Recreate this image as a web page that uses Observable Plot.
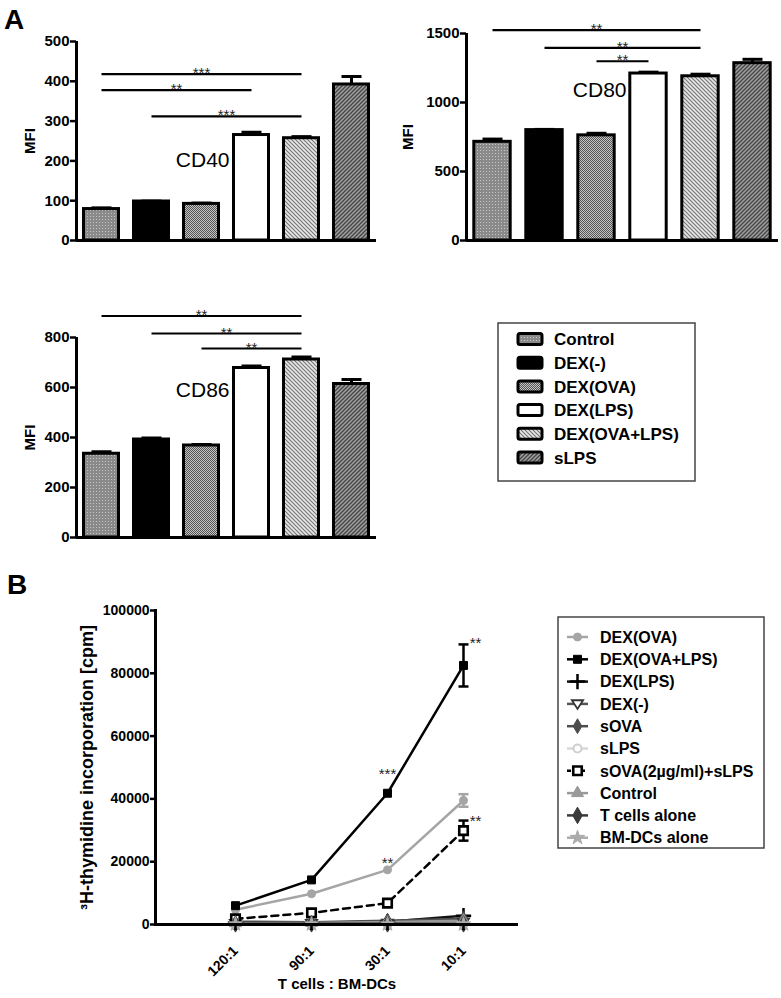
<!DOCTYPE html>
<html><head><meta charset="utf-8">
<script src="https://cdn.jsdelivr.net/npm/d3@7"></script>
<script src="https://cdn.jsdelivr.net/npm/@observablehq/plot@0.6"></script>
<style>
body{margin:0;background:#fff;}
#page{position:relative;width:781px;height:998px;background:#fff;font-family:"Liberation Sans",Arial,Helvetica,sans-serif;overflow:hidden;}
.letter{position:absolute;font-weight:bold;font-size:28px;line-height:1;}
</style></head><body>
<div id="page"></div>
<script>
// ---------- DATA (panel A) ----------
const groups = ["Control", "DEX(-)", "DEX(OVA)", "DEX(LPS)", "DEX(OVA+LPS)", "sLPS"];
const cd40Mean = [79, 98, 92, 265, 257, 392];
const cd40Err  = [3, 1, 2, 7, 4, 20];
const cd80Mean = [715, 800, 762, 1210, 1190, 1285];
const cd80Err  = [20, 5, 15, 10, 15, 28];
const cd86Mean = [335, 392, 368, 678, 712, 614];
const cd86Err  = [8, 6, 4, 8, 10, 18];
const cd40Ticks = [0, 100, 200, 300, 400, 500];
const cd80Ticks = [0, 500, 1000, 1500];
const cd86Ticks = [0, 200, 400, 600, 800];
const cd40Sig = [
  {from: "Control", to: "DEX(OVA+LPS)", level: 418, stars: "***"},
  {from: "Control", to: "DEX(LPS)", level: 378, stars: "**"},
  {from: "DEX(-)", to: "DEX(OVA+LPS)", level: 312, stars: "***"}
];
const cd80Sig = [
  {from: "Control", to: "DEX(OVA+LPS)", level: 1524, stars: "**"},
  {from: "DEX(-)", to: "DEX(OVA+LPS)", level: 1396, stars: "**"},
  {from: "DEX(OVA)", to: "DEX(LPS)", level: 1299, stars: "**"}
];
const cd86Sig = [
  {from: "Control", to: "DEX(OVA+LPS)", level: 886, stars: "**"},
  {from: "DEX(-)", to: "DEX(OVA+LPS)", level: 816, stars: "**"},
  {from: "DEX(OVA)", to: "DEX(OVA+LPS)", level: 756, stars: "**"}
];

// ---------- DATA (panel B) ----------
const ratios = ["120:1", "90:1", "30:1", "10:1"];
const yTicksB = [0, 20000, 40000, 60000, 80000, 100000];
const dexOva       = [4700, 9800, 17400, 39500];
const dexOvaLps    = [6000, 14200, 41800, 82500];
const dexLps       = [700, 600, 900, 2800];
const dexNone      = [300, 300, 400, 800];
const sOva         = [900, 700, 1200, 1800];
const sLps         = [200, 200, 300, 400];
const sOvaSLps     = [1800, 3700, 6800, 29900];
const controlB     = [400, 500, 800, 1200];
const tCellsAlone  = [200, 200, 200, 200];
const bmdcAlone    = [100, 100, 100, 100];
const errorsB = [
  {series: "DEX(OVA+LPS)", ratio: "10:1", mean: 82500, err: 6700},
  {series: "DEX(OVA)", ratio: "10:1", mean: 39500, err: 2000},
  {series: "sOVA(2µg/ml)+sLPS", ratio: "10:1", mean: 29900, err: 3200}
];
const starsB = [
  {ratio: "30:1", level: 47500, stars: "***"},
  {ratio: "30:1", level: 19300, stars: "**"},
  {ratio: "10:1", level: 89300, stars: "**"},
  {ratio: "10:1", level: 32500, stars: "**"}
];

// ---------- STYLE ----------
const FONT = "'Liberation Sans', Arial, Helvetica, sans-serif";
const barFill = {
  "Control": "url(#pCtrl)", "DEX(-)": "#000", "DEX(OVA)": "url(#pOva)",
  "DEX(LPS)": "#fff", "DEX(OVA+LPS)": "url(#pOvaLps)", "sLPS": "url(#pSlps)"
};
const capSymbol = {draw(ctx, size) { const w = Math.sqrt(size / Math.PI); ctx.moveTo(-w, 0); ctx.lineTo(w, 0); }};
const triDown = {draw(ctx, size) { const r = Math.sqrt(size / Math.PI) * 1.25; ctx.moveTo(-r, -r * 0.65); ctx.lineTo(r, -r * 0.65); ctx.lineTo(0, r * 0.9); ctx.closePath(); }};
const seriesB = [
  {name: "DEX(OVA)", values: dexOva, stroke: "#a5a5a5", symbol: d3.symbolCircle, fill: "#a5a5a5", mstroke: "#a5a5a5", r: 4, sw: 1},
  {name: "DEX(OVA+LPS)", values: dexOvaLps, stroke: "#000", symbol: d3.symbolSquare, fill: "#000", mstroke: "#000", r: 4.5, sw: 1},
  {name: "DEX(LPS)", values: dexLps, stroke: "#111", symbol: d3.symbolPlus, fill: "none", mstroke: "#000", r: 5, sw: 2.5},
  {name: "DEX(-)", values: dexNone, stroke: "#555", symbol: triDown, fill: "#fff", mstroke: "#333", r: 4.5, sw: 1.8},
  {name: "sOVA", values: sOva, stroke: "#4d4d4d", symbol: d3.symbolDiamond, fill: "#4d4d4d", mstroke: "#4d4d4d", r: 4.5, sw: 1},
  {name: "sLPS", values: sLps, stroke: "#d9d9d9", symbol: d3.symbolCircle, fill: "#fff", mstroke: "#cfcfcf", r: 4, sw: 2},
  {name: "sOVA(2µg/ml)+sLPS", values: sOvaSLps, stroke: "#000", dash: "7,5", symbol: d3.symbolSquare, fill: "#fff", mstroke: "#000", r: 4.8, sw: 2.6},
  {name: "Control", values: controlB, stroke: "#999", symbol: d3.symbolTriangle, fill: "#999", mstroke: "#999", r: 4.5, sw: 1},
  {name: "T cells alone", values: tCellsAlone, stroke: "#3a3a3a", symbol: d3.symbolDiamond, fill: "#3a3a3a", mstroke: "#3a3a3a", r: 5, sw: 1},
  {name: "BM-DCs alone", values: bmdcAlone, stroke: "#ababab", symbol: d3.symbolStar, fill: "#ababab", mstroke: "#ababab", r: 4.5, sw: 1}
];

const page = document.getElementById("page");
page.insertAdjacentHTML("beforeend", `<svg width="0" height="0" style="position:absolute"><defs>
<pattern id="pCtrl" width="3" height="3" patternUnits="userSpaceOnUse"><rect width="3" height="3" fill="#8a8a8a"/><rect width="1" height="1" fill="#c6c6c6"/></pattern>
<pattern id="pOva" width="2" height="2" patternUnits="userSpaceOnUse"><rect width="2" height="2" fill="#c4c4c4"/><rect width="1" height="1" fill="#555"/><rect x="1" y="1" width="1" height="1" fill="#555"/></pattern>
<pattern id="pOvaLps" width="4" height="4" patternUnits="userSpaceOnUse"><rect width="4" height="4" fill="#e8e8e8"/><path d="M-1,-1L5,5M-1,3L1,5M3,-1L5,1" stroke="#777" stroke-width="1.2"/></pattern>
<pattern id="pSlps" width="4" height="4" patternUnits="userSpaceOnUse"><rect width="4" height="4" fill="#a0a0a0"/><path d="M-1,5L5,-1M-1,1L1,-1M3,5L5,3" stroke="#444" stroke-width="1.3"/></pattern>
</defs></svg>`);

function place(node, left, top) {
  node.style.position = "absolute";
  node.style.left = left + "px";
  node.style.top = top + "px";
  page.appendChild(node);
}

function barPanel({means, errs, ticks, sig, tag, tagY, width, height, marginLeft, marginRight, marginTop, yMax, labelDx}) {
  const rows = groups.map((g, i) => ({group: g, i, mean: means[i], err: errs[i]}));
  const idx = g => groups.indexOf(g);
  return Plot.plot({
    width, height, marginLeft, marginRight, marginTop, marginBottom: 10,
    style: {fontFamily: FONT, fontSize: "15px", background: "transparent", overflow: "visible", color: "#000"},
    x: {type: "linear", domain: [-0.5, groups.length - 0.5], axis: null},
    y: {domain: [0, yMax], axis: null},
    color: {type: "identity"},
    marks: [
      Plot.rect(rows, {x1: d => d.i - 0.35, x2: d => d.i + 0.35, y1: 0, y2: "mean", fill: d => barFill[d.group], stroke: "#000", strokeWidth: 3}),
      Plot.ruleX(rows, {x: "i", y1: "mean", y2: d => d.mean + d.err, stroke: "#000", strokeWidth: 3}),
      Plot.dot(rows, {x: "i", y: d => d.mean + d.err, symbol: capSymbol, r: 10, fill: "none", stroke: "#000", strokeWidth: 3}),
      Plot.ruleY([0], {stroke: "#000", strokeWidth: 3}),
      Plot.ruleX([-0.5], {stroke: "#000", strokeWidth: 3}),
      Plot.axisY(ticks, {tickSize: 6, tickPadding: 1, fontSize: 15, fontWeight: "bold", strokeWidth: 2.5, tickFormat: d3.format("d"), label: null}),
      Plot.link(sig, {x1: d => idx(d.from), x2: d => idx(d.to), y1: "level", y2: "level", stroke: "#000", strokeWidth: 2.2}),
      Plot.text(sig, {x: d => (idx(d.from) + idx(d.to)) / 2, y: "level", text: "stars", fontSize: 15, lineAnchor: "bottom", dy: 4, fill: "#222"}),
      Plot.text([tag], {x: idx("DEX(LPS)"), y: tagY, text: d => d, textAnchor: "end", dx: -22, fontSize: 21, fontWeight: "normal"}),
      Plot.text(["MFI"], {frameAnchor: "left", textAnchor: "middle", rotate: -90, dx: labelDx, text: d => d, fontSize: 15, fontWeight: "bold"})
    ]
  });
}

place(barPanel({means: cd40Mean, errs: cd40Err, ticks: cd40Ticks, sig: cd40Sig, tag: "CD40", tagY: 201,
  width: 390, height: 250, marginLeft: 76, marginRight: 14, marginTop: 41, yMax: 500, labelDx: -46}), 0, 0);
place(barPanel({means: cd80Mean, errs: cd80Err, ticks: cd80Ticks, sig: cd80Sig, tag: "CD80", tagY: 1089,
  width: 391, height: 250, marginLeft: 76, marginRight: 3, marginTop: 33, yMax: 1500, labelDx: -58}), 390, 0);
place(barPanel({means: cd86Mean, errs: cd86Err, ticks: cd86Ticks, sig: cd86Sig, tag: "CD86", tagY: 587,
  width: 390, height: 257, marginLeft: 76, marginRight: 14, marginTop: 47, yMax: 800, labelDx: -46}), 0, 290);

// Panel B
const rowsB = seriesB.flatMap(s => ratios.map((r, k) => ({series: s.name, ratio: r, value: s.values[k]})));
const marksB = [];
for (const s of seriesB) {
  const rs = rowsB.filter(d => d.series === s.name);
  marksB.push(Plot.line(rs, {x: "ratio", y: "value", stroke: s.stroke, strokeWidth: 2.5, strokeDasharray: s.dash}));
}
for (const s of seriesB) {
  const rs = rowsB.filter(d => d.series === s.name);
  marksB.push(Plot.dot(rs, {x: "ratio", y: "value", symbol: s.symbol, r: s.r, fill: s.fill, stroke: s.mstroke, strokeWidth: s.sw}));
}
const errColor = name => seriesB.find(s => s.name === name).mstroke;
const chartB = Plot.plot({
  width: 530, height: 438, marginLeft: 155, marginRight: 12, marginTop: 50, marginBottom: 74,
  style: {fontFamily: FONT, fontSize: "14px", background: "transparent", overflow: "visible", color: "#000"},
  x: {type: "point", domain: ratios, padding: 0.888, align: 0.593, axis: null},
  y: {domain: [0, 100000], axis: null},
  marks: [
    Plot.ruleX(errorsB, {x: "ratio", y1: d => d.mean - d.err, y2: d => d.mean + d.err, stroke: d => errColor(d.series), strokeWidth: 2.5}),
    Plot.dot(errorsB, {x: "ratio", y: d => d.mean + d.err, symbol: capSymbol, r: 5, fill: "none", stroke: d => errColor(d.series), strokeWidth: 2.5}),
    Plot.dot(errorsB, {x: "ratio", y: d => d.mean - d.err, symbol: capSymbol, r: 5, fill: "none", stroke: d => errColor(d.series), strokeWidth: 2.5}),
    ...marksB,
    Plot.ruleY([0], {stroke: "#000", strokeWidth: 3}),
    Plot.frame({anchor: "left", stroke: "#000", strokeWidth: 3}),
    Plot.axisY(yTicksB, {tickSize: 5, tickPadding: 1, fontSize: 14, fontWeight: "bold", strokeWidth: 2.5, tickFormat: d3.format("d"), label: null}),
    Plot.axisX(ratios, {tickSize: 6, tickPadding: 18, tickRotate: -45, fontSize: 14, fontWeight: "bold", strokeWidth: 2.5, label: null}),
    Plot.text(starsB.filter(d => d.ratio === "30:1"), {x: "ratio", y: "level", text: "stars", fontSize: 15, lineAnchor: "bottom", dy: 4, fill: "#222"}),
    Plot.text(starsB.filter(d => d.ratio === "10:1"), {x: "ratio", y: "level", text: "stars", fontSize: 15, lineAnchor: "bottom", dy: 4, dx: 12, fill: "#222"}),
    Plot.text(["³H-thymidine incorporation [cpm]"], {frameAnchor: "left", textAnchor: "middle", rotate: -90, dx: -68, text: d => d, fontSize: 18, fontWeight: "bold"}),
    Plot.text(["T cells : BM-DCs"], {frameAnchor: "bottom", dy: 64, text: d => d, fontSize: 15, fontWeight: "bold"})
  ]
});
place(chartB, 0, 560);

// Legend A
const legA = d3.create("svg").attr("width", 199).attr("height", 160).style("font-family", FONT);
legA.append("rect").attr("x", 1).attr("y", 1).attr("width", 197).attr("height", 158).attr("fill", "#fff").attr("stroke", "#444").attr("stroke-width", 1.5);
groups.forEach((g, k) => {
  const cy = 17 + k * 23.7;
  legA.append("rect").attr("x", 21).attr("y", cy - 5.5).attr("width", 24).attr("height", 11).attr("rx", 2)
    .attr("fill", barFill[g]).attr("stroke", "#000").attr("stroke-width", 3);
  legA.append("text").attr("x", 57).attr("y", cy).attr("dy", "0.36em").attr("font-size", 17).attr("font-weight", "bold").text(g);
});
place(legA.node(), 497, 322);

// Legend B
const legB = d3.create("svg").attr("width", 208).attr("height", 233).style("font-family", FONT);
legB.append("rect").attr("x", 1).attr("y", 1).attr("width", 206).attr("height", 231).attr("fill", "#fff").attr("stroke", "#444").attr("stroke-width", 1.5);
seriesB.forEach((s, k) => {
  const cy = 21 + k * 22.3;
  legB.append("line").attr("x1", 10).attr("x2", 31).attr("y1", cy).attr("y2", cy)
    .attr("stroke", s.stroke).attr("stroke-width", 2.5).attr("stroke-dasharray", s.dash ? "4,3" : null);
  legB.append("path").attr("transform", `translate(20.5,${cy})`)
    .attr("d", d3.symbol(s.symbol, Math.PI * s.r * s.r)())
    .attr("fill", s.fill).attr("stroke", s.mstroke).attr("stroke-width", s.sw);
  legB.append("text").attr("x", 43).attr("y", cy).attr("dy", "0.36em").attr("font-size", 16).attr("font-weight", "bold").text(s.name);
});
place(legB.node(), 557, 616);

// Panel letters
page.insertAdjacentHTML("beforeend", `<div class="letter" style="left:4px;top:6px;">A</div><div class="letter" style="left:7px;top:571px;">B</div>`);
</script>
</body></html>
